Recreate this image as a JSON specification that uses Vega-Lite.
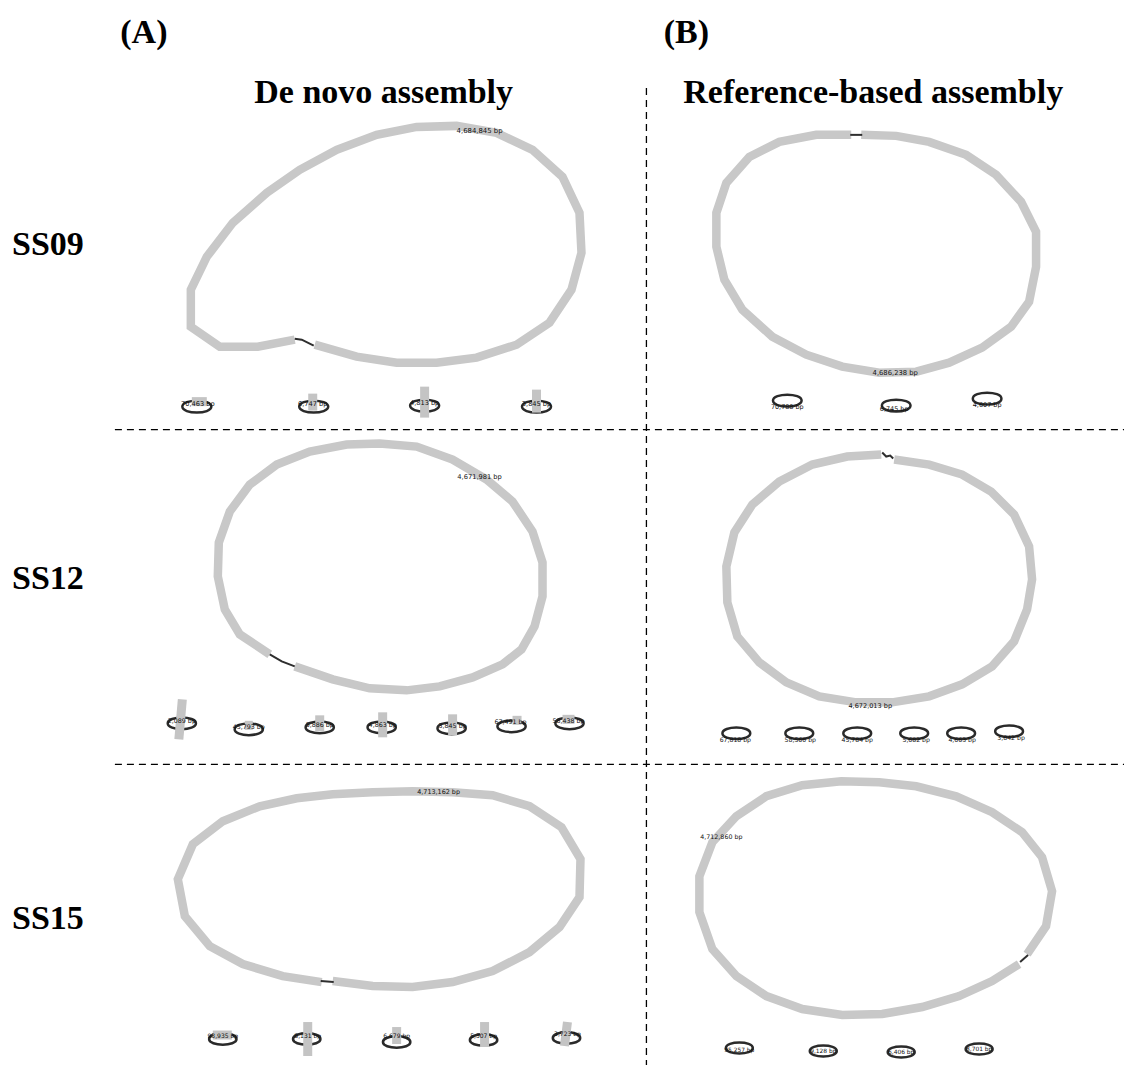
{
  "$schema": "https://vega.github.io/schema/vega-lite/v6.json",
  "width": 1125,
  "height": 1066,
  "autosize": {"type": "fit", "contains": "padding"},
  "padding": 0,
  "background": "white",
  "config": {"view": {"stroke": null}},
  "resolve": {"scale": {"size": "independent"}},
  "datasets": {
    "loops": [
      {"seg":"L1","kind":"node","i":0,"x":295,"y":340},{"seg":"L1","kind":"node","i":1,"x":258,"y":347},{"seg":"L1","kind":"node","i":2,"x":220,"y":347},{"seg":"L1","kind":"node","i":3,"x":191,"y":327},{"seg":"L1","kind":"node","i":4,"x":191,"y":290},{"seg":"L1","kind":"node","i":5,"x":207,"y":257},{"seg":"L1","kind":"node","i":6,"x":233,"y":223},{"seg":"L1","kind":"node","i":7,"x":267,"y":193},{"seg":"L1","kind":"node","i":8,"x":300,"y":170},{"seg":"L1","kind":"node","i":9,"x":337,"y":150},{"seg":"L1","kind":"node","i":10,"x":377,"y":135},{"seg":"L1","kind":"node","i":11,"x":417,"y":127},{"seg":"L1","kind":"node","i":12,"x":457,"y":126},{"seg":"L1","kind":"node","i":13,"x":497,"y":133},{"seg":"L1","kind":"node","i":14,"x":533,"y":150},{"seg":"L1","kind":"node","i":15,"x":563,"y":177},{"seg":"L1","kind":"node","i":16,"x":580,"y":213},{"seg":"L1","kind":"node","i":17,"x":582,"y":253},{"seg":"L1","kind":"node","i":18,"x":572,"y":290},{"seg":"L1","kind":"node","i":19,"x":550,"y":323},{"seg":"L1","kind":"node","i":20,"x":517,"y":345},{"seg":"L1","kind":"node","i":21,"x":477,"y":358},{"seg":"L1","kind":"node","i":22,"x":437,"y":363},{"seg":"L1","kind":"node","i":23,"x":397,"y":363},{"seg":"L1","kind":"node","i":24,"x":357,"y":357},{"seg":"L1","kind":"node","i":25,"x":315,"y":345},
      {"seg":"K1","kind":"link","i":0,"x":295,"y":339},{"seg":"K1","kind":"link","i":1,"x":302,"y":340},{"seg":"K1","kind":"link","i":2,"x":314,"y":346},
      {"seg":"L2","kind":"node","i":0,"x":862,"y":135},{"seg":"L2","kind":"node","i":1,"x":897,"y":136},{"seg":"L2","kind":"node","i":2,"x":930,"y":142},{"seg":"L2","kind":"node","i":3,"x":967,"y":155},{"seg":"L2","kind":"node","i":4,"x":997,"y":175},{"seg":"L2","kind":"node","i":5,"x":1022,"y":202},{"seg":"L2","kind":"node","i":6,"x":1037,"y":232},{"seg":"L2","kind":"node","i":7,"x":1037,"y":267},{"seg":"L2","kind":"node","i":8,"x":1030,"y":302},{"seg":"L2","kind":"node","i":9,"x":1012,"y":327},{"seg":"L2","kind":"node","i":10,"x":983,"y":348},{"seg":"L2","kind":"node","i":11,"x":950,"y":363},{"seg":"L2","kind":"node","i":12,"x":917,"y":372},{"seg":"L2","kind":"node","i":13,"x":880,"y":373},{"seg":"L2","kind":"node","i":14,"x":843,"y":367},{"seg":"L2","kind":"node","i":15,"x":807,"y":355},{"seg":"L2","kind":"node","i":16,"x":773,"y":337},{"seg":"L2","kind":"node","i":17,"x":743,"y":310},{"seg":"L2","kind":"node","i":18,"x":725,"y":280},{"seg":"L2","kind":"node","i":19,"x":717,"y":247},{"seg":"L2","kind":"node","i":20,"x":717,"y":213},{"seg":"L2","kind":"node","i":21,"x":727,"y":183},{"seg":"L2","kind":"node","i":22,"x":750,"y":157},{"seg":"L2","kind":"node","i":23,"x":780,"y":142},{"seg":"L2","kind":"node","i":24,"x":817,"y":135},{"seg":"L2","kind":"node","i":25,"x":852,"y":135},
      {"seg":"K2","kind":"link","i":0,"x":851,"y":135},{"seg":"K2","kind":"link","i":1,"x":863,"y":135},
      {"seg":"L3","kind":"node","i":0,"x":295,"y":667},{"seg":"L3","kind":"node","i":1,"x":333,"y":680},{"seg":"L3","kind":"node","i":2,"x":370,"y":689},{"seg":"L3","kind":"node","i":3,"x":407,"y":691},{"seg":"L3","kind":"node","i":4,"x":440,"y":687},{"seg":"L3","kind":"node","i":5,"x":473,"y":678},{"seg":"L3","kind":"node","i":6,"x":503,"y":665},{"seg":"L3","kind":"node","i":7,"x":522,"y":650},{"seg":"L3","kind":"node","i":8,"x":535,"y":627},{"seg":"L3","kind":"node","i":9,"x":543,"y":597},{"seg":"L3","kind":"node","i":10,"x":543,"y":563},{"seg":"L3","kind":"node","i":11,"x":533,"y":532},{"seg":"L3","kind":"node","i":12,"x":513,"y":502},{"seg":"L3","kind":"node","i":13,"x":487,"y":480},{"seg":"L3","kind":"node","i":14,"x":453,"y":460},{"seg":"L3","kind":"node","i":15,"x":417,"y":447},{"seg":"L3","kind":"node","i":16,"x":380,"y":444},{"seg":"L3","kind":"node","i":17,"x":347,"y":445},{"seg":"L3","kind":"node","i":18,"x":310,"y":452},{"seg":"L3","kind":"node","i":19,"x":277,"y":465},{"seg":"L3","kind":"node","i":20,"x":250,"y":485},{"seg":"L3","kind":"node","i":21,"x":230,"y":512},{"seg":"L3","kind":"node","i":22,"x":219,"y":543},{"seg":"L3","kind":"node","i":23,"x":218,"y":577},{"seg":"L3","kind":"node","i":24,"x":225,"y":610},{"seg":"L3","kind":"node","i":25,"x":240,"y":635},{"seg":"L3","kind":"node","i":26,"x":270,"y":655},
      {"seg":"K3","kind":"link","i":0,"x":270,"y":655},{"seg":"K3","kind":"link","i":1,"x":282,"y":662},{"seg":"K3","kind":"link","i":2,"x":295,"y":667},
      {"seg":"L4","kind":"node","i":0,"x":895,"y":460},{"seg":"L4","kind":"node","i":1,"x":930,"y":465},{"seg":"L4","kind":"node","i":2,"x":963,"y":475},{"seg":"L4","kind":"node","i":3,"x":992,"y":492},{"seg":"L4","kind":"node","i":4,"x":1015,"y":515},{"seg":"L4","kind":"node","i":5,"x":1030,"y":547},{"seg":"L4","kind":"node","i":6,"x":1033,"y":580},{"seg":"L4","kind":"node","i":7,"x":1028,"y":610},{"seg":"L4","kind":"node","i":8,"x":1015,"y":642},{"seg":"L4","kind":"node","i":9,"x":993,"y":667},{"seg":"L4","kind":"node","i":10,"x":963,"y":685},{"seg":"L4","kind":"node","i":11,"x":930,"y":697},{"seg":"L4","kind":"node","i":12,"x":893,"y":703},{"seg":"L4","kind":"node","i":13,"x":857,"y":703},{"seg":"L4","kind":"node","i":14,"x":820,"y":697},{"seg":"L4","kind":"node","i":15,"x":787,"y":683},{"seg":"L4","kind":"node","i":16,"x":760,"y":663},{"seg":"L4","kind":"node","i":17,"x":738,"y":637},{"seg":"L4","kind":"node","i":18,"x":728,"y":603},{"seg":"L4","kind":"node","i":19,"x":727,"y":567},{"seg":"L4","kind":"node","i":20,"x":735,"y":533},{"seg":"L4","kind":"node","i":21,"x":753,"y":505},{"seg":"L4","kind":"node","i":22,"x":780,"y":482},{"seg":"L4","kind":"node","i":23,"x":813,"y":465},{"seg":"L4","kind":"node","i":24,"x":848,"y":457},{"seg":"L4","kind":"node","i":25,"x":882,"y":455},
      {"seg":"K4","kind":"link","i":0,"x":883,"y":453},{"seg":"K4","kind":"link","i":1,"x":887,"y":457},{"seg":"K4","kind":"link","i":2,"x":891,"y":456},{"seg":"K4","kind":"link","i":3,"x":894,"y":459},
      {"seg":"L5","kind":"node","i":0,"x":333,"y":982},{"seg":"L5","kind":"node","i":1,"x":373,"y":987},{"seg":"L5","kind":"node","i":2,"x":413,"y":988},{"seg":"L5","kind":"node","i":3,"x":453,"y":983},{"seg":"L5","kind":"node","i":4,"x":493,"y":972},{"seg":"L5","kind":"node","i":5,"x":530,"y":953},{"seg":"L5","kind":"node","i":6,"x":560,"y":928},{"seg":"L5","kind":"node","i":7,"x":580,"y":898},{"seg":"L5","kind":"node","i":8,"x":581,"y":860},{"seg":"L5","kind":"node","i":9,"x":562,"y":828},{"seg":"L5","kind":"node","i":10,"x":530,"y":807},{"seg":"L5","kind":"node","i":11,"x":493,"y":796},{"seg":"L5","kind":"node","i":12,"x":453,"y":793},{"seg":"L5","kind":"node","i":13,"x":413,"y":792},{"seg":"L5","kind":"node","i":14,"x":373,"y":793},{"seg":"L5","kind":"node","i":15,"x":333,"y":795},{"seg":"L5","kind":"node","i":16,"x":297,"y":799},{"seg":"L5","kind":"node","i":17,"x":260,"y":807},{"seg":"L5","kind":"node","i":18,"x":223,"y":822},{"seg":"L5","kind":"node","i":19,"x":193,"y":845},{"seg":"L5","kind":"node","i":20,"x":178,"y":880},{"seg":"L5","kind":"node","i":21,"x":185,"y":917},{"seg":"L5","kind":"node","i":22,"x":210,"y":947},{"seg":"L5","kind":"node","i":23,"x":243,"y":965},{"seg":"L5","kind":"node","i":24,"x":283,"y":977},{"seg":"L5","kind":"node","i":25,"x":322,"y":983},
      {"seg":"K5","kind":"link","i":0,"x":321,"y":982},{"seg":"K5","kind":"link","i":1,"x":334,"y":983},
      {"seg":"L6","kind":"node","i":0,"x":1028,"y":955},{"seg":"L6","kind":"node","i":1,"x":1047,"y":927},{"seg":"L6","kind":"node","i":2,"x":1053,"y":892},{"seg":"L6","kind":"node","i":3,"x":1043,"y":858},{"seg":"L6","kind":"node","i":4,"x":1023,"y":833},{"seg":"L6","kind":"node","i":5,"x":993,"y":813},{"seg":"L6","kind":"node","i":6,"x":957,"y":797},{"seg":"L6","kind":"node","i":7,"x":917,"y":787},{"seg":"L6","kind":"node","i":8,"x":880,"y":783},{"seg":"L6","kind":"node","i":9,"x":842,"y":782},{"seg":"L6","kind":"node","i":10,"x":803,"y":786},{"seg":"L6","kind":"node","i":11,"x":767,"y":797},{"seg":"L6","kind":"node","i":12,"x":737,"y":817},{"seg":"L6","kind":"node","i":13,"x":713,"y":843},{"seg":"L6","kind":"node","i":14,"x":700,"y":877},{"seg":"L6","kind":"node","i":15,"x":700,"y":913},{"seg":"L6","kind":"node","i":16,"x":713,"y":950},{"seg":"L6","kind":"node","i":17,"x":737,"y":977},{"seg":"L6","kind":"node","i":18,"x":767,"y":997},{"seg":"L6","kind":"node","i":19,"x":803,"y":1010},{"seg":"L6","kind":"node","i":20,"x":843,"y":1016},{"seg":"L6","kind":"node","i":21,"x":883,"y":1015},{"seg":"L6","kind":"node","i":22,"x":923,"y":1008},{"seg":"L6","kind":"node","i":23,"x":960,"y":997},{"seg":"L6","kind":"node","i":24,"x":993,"y":982},{"seg":"L6","kind":"node","i":25,"x":1020,"y":965},
      {"seg":"K6","kind":"link","i":0,"x":1021,"y":963},{"seg":"K6","kind":"link","i":1,"x":1029,"y":956}
    ],
    "bars": [
      {"x":192,"y":402,"x2":207,"y2":402},{"x":313,"y":394,"x2":313,"y2":411},{"x":425,"y":387,"x2":425,"y2":418},{"x":537,"y":390,"x2":537,"y2":413},
      {"x":182.5,"y":700,"x2":179,"y2":740},{"x":245,"y":726,"x2":253,"y2":726},{"x":320,"y":716,"x2":320,"y2":732},{"x":383,"y":713,"x2":383,"y2":738},{"x":453,"y":715,"x2":453,"y2":736},{"x":513,"y":721,"x2":522,"y2":721},{"x":563,"y":720,"x2":575,"y2":720},
      {"x":213,"y":1036,"x2":232,"y2":1036},{"x":308,"y":1023,"x2":308,"y2":1057},{"x":397,"y":1028,"x2":397,"y2":1045},{"x":485,"y":1023,"x2":485,"y2":1048},{"x":568,"y":1023,"x2":565,"y2":1047}
    ],
    "contigs": [
      {"grp":"s09d","bp":"70,463 bp","ex":197,"ey":407,"lx":198,"ly":404},
      {"grp":"s09d","bp":"6,747 bp","ex":314,"ey":407,"lx":313,"ly":404},
      {"grp":"s09d","bp":"4,813 bp","ex":425,"ey":406,"lx":425,"ly":403},
      {"grp":"s09d","bp":"3,845 bp","ex":537,"ey":407,"lx":537,"ly":404},
      {"grp":"s09r","bp":"70,788 bp","ex":788,"ey":401,"lx":788,"ly":407},
      {"grp":"s09r","bp":"6,745 bp","ex":897,"ey":406,"lx":895,"ly":409},
      {"grp":"s09r","bp":"4,607 bp","ex":988,"ey":399,"lx":988,"ly":405},
      {"grp":"s12d","bp":"2,089 bp","ex":182,"ey":724,"lx":182,"ly":722},
      {"grp":"s12d","bp":"45,793 bp","ex":249,"ey":730,"lx":249,"ly":728},
      {"grp":"s12d","bp":"5,886 bp","ex":320,"ey":728,"lx":320,"ly":726},
      {"grp":"s12d","bp":"4,863 bp","ex":382,"ey":728,"lx":383,"ly":726},
      {"grp":"s12d","bp":"3,845 bp","ex":452,"ey":729,"lx":453,"ly":727},
      {"grp":"s12d","bp":"67,491 bp","ex":512,"ey":727,"lx":511,"ly":723},
      {"grp":"s12d","bp":"58,438 bp","ex":570,"ey":724,"lx":569,"ly":722},
      {"grp":"s12r","bp":"67,818 bp","ex":737,"ey":734,"lx":736,"ly":741},
      {"grp":"s12r","bp":"58,560 bp","ex":800,"ey":734,"lx":801,"ly":741},
      {"grp":"s12r","bp":"45,784 bp","ex":858,"ey":734,"lx":858,"ly":741},
      {"grp":"s12r","bp":"5,682 bp","ex":915,"ey":734,"lx":917,"ly":741},
      {"grp":"s12r","bp":"4,663 bp","ex":962,"ey":734,"lx":963,"ly":741},
      {"grp":"s12r","bp":"3,842 bp","ex":1010,"ey":732,"lx":1012,"ly":739},
      {"grp":"s15d","bp":"93,935 bp","ex":223,"ey":1040,"lx":223,"ly":1037},
      {"grp":"s15d","bp":"8,131 bp","ex":307,"ey":1040,"lx":308,"ly":1037},
      {"grp":"s15d","bp":"6,679 bp","ex":397,"ey":1043,"lx":397,"ly":1037},
      {"grp":"s15d","bp":"5,307 bp","ex":484,"ey":1041,"lx":484,"ly":1037},
      {"grp":"s15d","bp":"3,723 bp","ex":567,"ey":1039,"lx":568,"ly":1035},
      {"grp":"s15r","bp":"95,257 bp","ex":740,"ey":1049,"lx":740,"ly":1051},
      {"grp":"s15r","bp":"9,128 bp","ex":824,"ey":1052,"lx":824,"ly":1052},
      {"grp":"s15r","bp":"6,406 bp","ex":902,"ey":1053,"lx":902,"ly":1053},
      {"grp":"s15r","bp":"8,701 bp","ex":980,"ey":1050,"lx":980,"ly":1050}
    ],
    "biglabels": [
      {"grp":"b1","bp":"4,684,845 bp","x":480,"y":131},
      {"grp":"b2","bp":"4,686,238 bp","x":896,"y":373},
      {"grp":"b3","bp":"4,671,981 bp","x":480,"y":477},
      {"grp":"b4","bp":"4,672,013 bp","x":871,"y":707},
      {"grp":"b5","bp":"4,713,162 bp","x":439,"y":793},
      {"grp":"b6","bp":"4,712,860 bp","x":722,"y":838}
    ],
    "grid": [
      {"x":115,"y":430,"x2":1125,"y2":430},
      {"x":115,"y":765,"x2":1125,"y2":765},
      {"x":647,"y":88,"x2":647,"y2":1066}
    ],
    "titles": [
      {"text":"(A)","x":144,"y":33},
      {"text":"(B)","x":687,"y":33},
      {"text":"De novo assembly","x":384,"y":93},
      {"text":"Reference-based assembly","x":874,"y":93},
      {"text":"SS09","x":48,"y":245},
      {"text":"SS12","x":48,"y":580},
      {"text":"SS15","x":48,"y":920}
    ]
  },
  "layer": [
    {
      "data": {"name": "grid"},
      "mark": {"type": "rule", "color": "#000000", "strokeWidth": 1.3, "strokeDash": [7, 5]},
      "encoding": {
        "x": {"field": "x", "type": "quantitative", "scale": {"domain": [0, 1125], "nice": false, "zero": false}, "axis": null},
        "y": {"field": "y", "type": "quantitative", "scale": {"domain": [0, 1066], "nice": false, "zero": false, "reverse": true}, "axis": null},
        "x2": {"field": "x2"},
        "y2": {"field": "y2"}
      }
    },
    {
      "data": {"name": "loops"},
      "transform": [{"filter": "datum.kind == 'node'"}],
      "mark": {"type": "line", "color": "#c8c8c8", "strokeWidth": 8.5, "strokeCap": "butt", "strokeJoin": "miter"},
      "encoding": {
        "x": {"field": "x", "type": "quantitative", "scale": {"domain": [0, 1125], "nice": false, "zero": false}, "axis": null},
        "y": {"field": "y", "type": "quantitative", "scale": {"domain": [0, 1066], "nice": false, "zero": false, "reverse": true}, "axis": null},
        "detail": {"field": "seg", "type": "nominal"},
        "order": {"field": "i", "type": "quantitative"}
      }
    },
    {
      "data": {"name": "loops"},
      "transform": [{"filter": "datum.kind == 'link'"}],
      "mark": {"type": "line", "color": "#2e2e2e", "strokeWidth": 2, "strokeCap": "butt"},
      "encoding": {
        "x": {"field": "x", "type": "quantitative", "scale": {"domain": [0, 1125], "nice": false, "zero": false}, "axis": null},
        "y": {"field": "y", "type": "quantitative", "scale": {"domain": [0, 1066], "nice": false, "zero": false, "reverse": true}, "axis": null},
        "detail": {"field": "seg", "type": "nominal"},
        "order": {"field": "i", "type": "quantitative"}
      }
    },
    {
      "data": {"name": "contigs"},
      "mark": {"type": "point", "shape": "M-1,0C-1,-0.55 1,-0.55 1,0C1,0.55 -1,0.55 -1,0Z", "filled": false, "stroke": "#2a2a2a", "strokeWidth": 2.5, "opacity": 1},
      "encoding": {
        "x": {"field": "ex", "type": "quantitative", "scale": {"domain": [0, 1125], "nice": false, "zero": false}, "axis": null},
        "y": {"field": "ey", "type": "quantitative", "scale": {"domain": [0, 1066], "nice": false, "zero": false, "reverse": true}, "axis": null},
        "size": {"field": "grp", "type": "nominal", "scale": {"domain": ["s09d", "s09r", "s12d", "s12r", "s15d", "s15r"], "range": [841, 729, 576, 576, 729, 576]}, "legend": null}
      }
    },
    {
      "data": {"name": "bars"},
      "mark": {"type": "rule", "color": "#c4c4c4", "strokeWidth": 9, "strokeCap": "butt"},
      "encoding": {
        "x": {"field": "x", "type": "quantitative", "scale": {"domain": [0, 1125], "nice": false, "zero": false}, "axis": null},
        "y": {"field": "y", "type": "quantitative", "scale": {"domain": [0, 1066], "nice": false, "zero": false, "reverse": true}, "axis": null},
        "x2": {"field": "x2"},
        "y2": {"field": "y2"}
      }
    },
    {
      "data": {"name": "contigs"},
      "mark": {"type": "text", "font": "DejaVu Sans", "color": "#111111", "align": "center", "baseline": "middle"},
      "encoding": {
        "x": {"field": "lx", "type": "quantitative", "scale": {"domain": [0, 1125], "nice": false, "zero": false}, "axis": null},
        "y": {"field": "ly", "type": "quantitative", "scale": {"domain": [0, 1066], "nice": false, "zero": false, "reverse": true}, "axis": null},
        "text": {"field": "bp"},
        "size": {"field": "grp", "type": "nominal", "scale": {"domain": ["s09d", "s09r", "s12d", "s12r", "s15d", "s15r"], "range": [6.6, 5.9, 8.2, 7.3, 7.6, 5.6]}, "legend": null}
      }
    },
    {
      "data": {"name": "biglabels"},
      "mark": {"type": "text", "font": "DejaVu Sans", "color": "#111111", "align": "center", "baseline": "middle"},
      "encoding": {
        "x": {"field": "x", "type": "quantitative", "scale": {"domain": [0, 1125], "nice": false, "zero": false}, "axis": null},
        "y": {"field": "y", "type": "quantitative", "scale": {"domain": [0, 1066], "nice": false, "zero": false, "reverse": true}, "axis": null},
        "text": {"field": "bp"},
        "size": {"field": "grp", "type": "nominal", "scale": {"domain": ["b1", "b2", "b3", "b4", "b5", "b6"], "range": [6.9, 6.3, 8.2, 7.3, 7.8, 6.3]}, "legend": null}
      }
    },
    {
      "data": {"name": "titles"},
      "mark": {"type": "text", "font": "Liberation Serif", "fontWeight": "bold", "fontSize": 34, "color": "#000000", "align": "center", "baseline": "middle"},
      "encoding": {
        "x": {"field": "x", "type": "quantitative", "scale": {"domain": [0, 1125], "nice": false, "zero": false}, "axis": null},
        "y": {"field": "y", "type": "quantitative", "scale": {"domain": [0, 1066], "nice": false, "zero": false, "reverse": true}, "axis": null},
        "text": {"field": "text"}
      }
    }
  ]
}
